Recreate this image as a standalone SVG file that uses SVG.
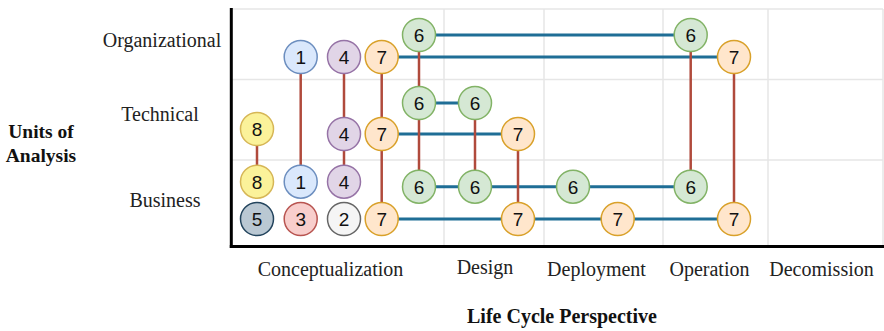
<svg xmlns="http://www.w3.org/2000/svg" width="884" height="331" viewBox="0 0 884 331">
  <style>
    .grid { stroke: #e6e6e6; stroke-width: 1.5; fill: none; }
    .axis { stroke: #000; stroke-width: 3; fill: none; }
    .lbl { font-family: "Liberation Serif", "Times New Roman", serif; font-size: 20px; fill: #222; }
    .ttl { font-family: "Liberation Serif", "Times New Roman", serif; font-size: 20px; font-weight: bold; fill: #111; }
    .h { stroke: #1f6e96; stroke-width: 3; fill: none; }
    .v { stroke: #b04a3c; stroke-width: 2.5; fill: none; }
    .n circle { stroke-width: 1.5; }
    .n text { font-family: "Liberation Sans", Arial, sans-serif; font-size: 19px; fill: #111; text-anchor: middle; }
    .c1 circle { fill: #dae8fc; stroke: #6c8ebf; }
    .c2 circle { fill: #f5f5f5; stroke: #666666; }
    .c3 circle { fill: #f8cecc; stroke: #b85450; }
    .c4 circle { fill: #e1d5e7; stroke: #9673a6; }
    .c5 circle { fill: #bac8d3; stroke: #23445d; }
    .c6 circle { fill: #d5e8d4; stroke: #82b366; }
    .c7 circle { fill: #ffe6cc; stroke: #d9a12a; }
    .c8 circle { fill: #fbf29a; stroke: #d6b656; }
  </style>

  <!-- background grid -->
  <g id="grid">
    <line class="grid" x1="231" y1="9" x2="883" y2="9"/>
    <line class="grid" x1="231" y1="79.5" x2="883" y2="79.5"/>
    <line class="grid" x1="231" y1="160" x2="883" y2="160"/>
    <line class="grid" x1="444" y1="9" x2="444" y2="246"/>
    <line class="grid" x1="544" y1="9" x2="544" y2="246"/>
    <line class="grid" x1="663" y1="9" x2="663" y2="246"/>
    <line class="grid" x1="768" y1="9" x2="768" y2="246"/>
    <line class="grid" x1="883" y1="9" x2="883" y2="246"/>
  </g>

  <!-- axes -->
  <g id="axes">
    <line class="axis" x1="231.3" y1="8" x2="231.3" y2="248"/>
    <line class="axis" x1="229.8" y1="246.5" x2="884" y2="246.5"/>
  </g>

  <!-- axis labels -->
  <g id="labels">
    <text class="lbl" x="162" y="47" text-anchor="middle">Organizational</text>
    <text class="lbl" x="160" y="121" text-anchor="middle">Technical</text>
    <text class="lbl" x="165" y="207" text-anchor="middle">Business</text>
    <text class="ttl" x="41" y="138" text-anchor="middle" style="font-size:19.5px">Units of</text>
    <text class="ttl" x="41" y="162" text-anchor="middle" style="font-size:19.5px">Analysis</text>
    <text class="lbl" x="330.5" y="276" text-anchor="middle">Conceptualization</text>
    <text class="lbl" x="485" y="273.5" text-anchor="middle">Design</text>
    <text class="lbl" x="596.5" y="276" text-anchor="middle">Deployment</text>
    <text class="lbl" x="709.5" y="276" text-anchor="middle">Operation</text>
    <text class="lbl" x="821.5" y="276" text-anchor="middle">Decomission</text>
    <text class="ttl" x="562" y="323" text-anchor="middle">Life Cycle Perspective</text>
  </g>

  <!-- connectors -->
  <g id="connectors">
    <line class="h" x1="419" y1="35" x2="690.7" y2="35"/>
    <line class="h" x1="381.7" y1="57" x2="734" y2="57"/>
    <line class="h" x1="419" y1="103" x2="475" y2="103"/>
    <line class="h" x1="381.7" y1="134" x2="518" y2="134"/>
    <line class="h" x1="419" y1="186.7" x2="690.7" y2="186.7"/>
    <line class="h" x1="381.7" y1="219" x2="734" y2="219"/>

    <line class="v" x1="257" y1="129" x2="257" y2="181.7"/>
    <line class="v" x1="300.7" y1="57" x2="300.7" y2="181.7"/>
    <line class="v" x1="344" y1="57" x2="344" y2="181.7"/>
    <line class="v" x1="381.7" y1="57" x2="381.7" y2="219"/>
    <line class="v" x1="419" y1="35" x2="419" y2="186.7"/>
    <line class="v" x1="475" y1="103" x2="475" y2="186.7"/>
    <line class="v" x1="518" y1="134" x2="518" y2="219"/>
    <line class="v" x1="690.7" y1="35" x2="690.7" y2="186.7"/>
    <line class="v" x1="734" y1="57" x2="734" y2="219"/>
  </g>

  <!-- nodes: Organizational row -->
  <g id="org-1" class="n c1"><circle cx="300.7" cy="57" r="16.5"/><text x="300.7" y="63.8">1</text></g>
  <g id="org-4" class="n c4"><circle cx="344" cy="57" r="16.5"/><text x="344" y="63.8">4</text></g>
  <g id="org-7a" class="n c7"><circle cx="381.7" cy="57" r="16.5"/><text x="381.7" y="63.8">7</text></g>
  <g id="org-6a" class="n c6"><circle cx="419" cy="35" r="16.5"/><text x="419" y="41.8">6</text></g>
  <g id="org-6b" class="n c6"><circle cx="690.7" cy="35" r="16.5"/><text x="690.7" y="41.8">6</text></g>
  <g id="org-7b" class="n c7"><circle cx="734" cy="57" r="16.5"/><text x="734" y="63.8">7</text></g>

  <!-- nodes: Technical row -->
  <g id="tech-8" class="n c8"><circle cx="257" cy="129" r="16.5"/><text x="257" y="135.8">8</text></g>
  <g id="tech-4" class="n c4"><circle cx="344" cy="134" r="16.5"/><text x="344" y="140.8">4</text></g>
  <g id="tech-7a" class="n c7"><circle cx="381.7" cy="134" r="16.5"/><text x="381.7" y="140.8">7</text></g>
  <g id="tech-6a" class="n c6"><circle cx="419" cy="103" r="16.5"/><text x="419" y="109.8">6</text></g>
  <g id="tech-6b" class="n c6"><circle cx="475" cy="103" r="16.5"/><text x="475" y="109.8">6</text></g>
  <g id="tech-7b" class="n c7"><circle cx="518" cy="134" r="16.5"/><text x="518" y="140.8">7</text></g>

  <!-- nodes: Business row -->
  <g id="biz-8" class="n c8"><circle cx="257" cy="181.7" r="16.5"/><text x="257" y="188.5">8</text></g>
  <g id="biz-1" class="n c1"><circle cx="300.7" cy="181.7" r="16.5"/><text x="300.7" y="188.5">1</text></g>
  <g id="biz-4" class="n c4"><circle cx="344" cy="181.7" r="16.5"/><text x="344" y="188.5">4</text></g>
  <g id="biz-6a" class="n c6"><circle cx="419" cy="186.7" r="16.5"/><text x="419" y="193.5">6</text></g>
  <g id="biz-6b" class="n c6"><circle cx="475" cy="186.7" r="16.5"/><text x="475" y="193.5">6</text></g>
  <g id="biz-6c" class="n c6"><circle cx="573" cy="186.7" r="16.5"/><text x="573" y="193.5">6</text></g>
  <g id="biz-6d" class="n c6"><circle cx="690.7" cy="186.7" r="16.5"/><text x="690.7" y="193.5">6</text></g>
  <g id="biz-5" class="n c5"><circle cx="257" cy="219" r="16.5"/><text x="257" y="225.8">5</text></g>
  <g id="biz-3" class="n c3"><circle cx="300.7" cy="219" r="16.5"/><text x="300.7" y="225.8">3</text></g>
  <g id="biz-2" class="n c2"><circle cx="344" cy="219" r="16.5"/><text x="344" y="225.8">2</text></g>
  <g id="biz-7a" class="n c7"><circle cx="381.7" cy="219" r="16.5"/><text x="381.7" y="225.8">7</text></g>
  <g id="biz-7b" class="n c7"><circle cx="518" cy="219" r="16.5"/><text x="518" y="225.8">7</text></g>
  <g id="biz-7c" class="n c7"><circle cx="617.7" cy="219" r="16.5"/><text x="617.7" y="225.8">7</text></g>
  <g id="biz-7d" class="n c7"><circle cx="734" cy="219" r="16.5"/><text x="734" y="225.8">7</text></g>
</svg>
